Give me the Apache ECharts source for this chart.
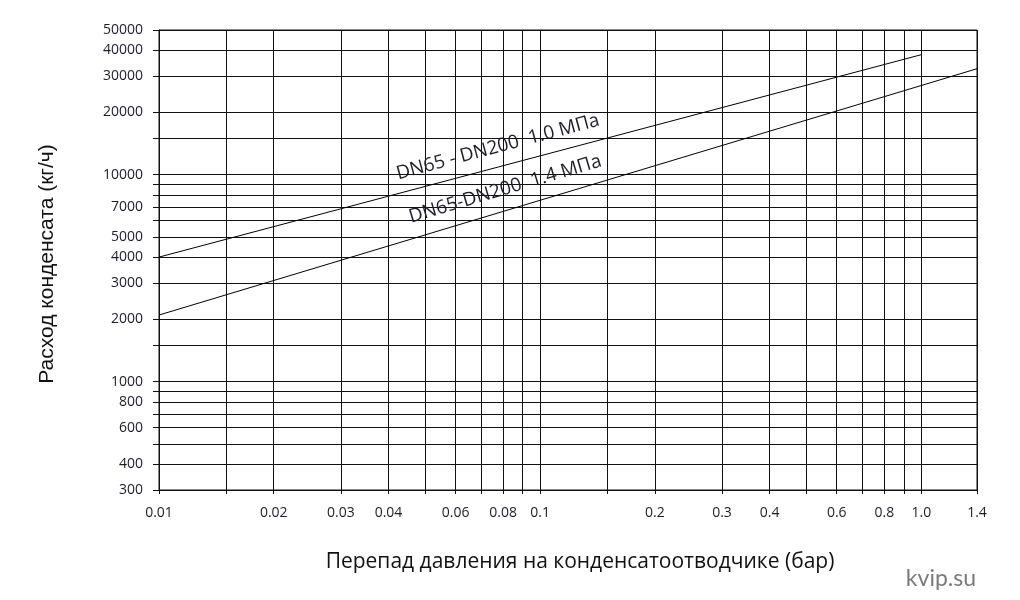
<!DOCTYPE html>
<html>
<head>
<meta charset="utf-8">
<script src="https://cdn.jsdelivr.net/npm/echarts@6/dist/echarts.min.js"></script>
<style>
html,body{margin:0;padding:0;background:#fff;}
#chart{width:1020px;height:600px;}
</style>
</head>
<body>
<div id="chart"></div>
<script>
// X axis (pressure drop, bar): grid lines and labelled ticks
var xGridValues = [0.01, 0.015, 0.02, 0.03, 0.04, 0.05, 0.06, 0.07, 0.08, 0.09, 0.1, 0.15, 0.2, 0.3, 0.4, 0.5, 0.6, 0.7, 0.8, 0.9, 1.0, 1.4];
var xLabelValues = [0.01, 0.02, 0.03, 0.04, 0.06, 0.08, 0.1, 0.2, 0.3, 0.4, 0.6, 0.8, 1.0, 1.4];
var xLabelTexts = ['0.01', '0.02', '0.03', '0.04', '0.06', '0.08', '0.1', '0.2', '0.3', '0.4', '0.6', '0.8', '1.0', '1.4'];

// Y axis (condensate flow, kg/h): grid lines and labelled ticks
var yGridValues = [300, 400, 500, 600, 700, 800, 900, 1000, 1500, 2000, 3000, 4000, 5000, 6000, 7000, 8000, 9000, 10000, 15000, 20000, 30000, 40000, 50000];
var yLabelValues = [300, 400, 600, 800, 1000, 2000, 3000, 4000, 5000, 7000, 10000, 20000, 30000, 40000, 50000];

// Series
var seriesNames = ['DN65 - DN200  1.0 МПа', 'DN65-DN200  1.4 МПа'];
var s1x = [0.01, 1.0];
var s1y = [4000, 38000];
var s2x = [0.01, 1.4];
var s2y = [2100, 32500];

function pairs(xs, ys) {
  var out = [];
  for (var i = 0; i < xs.length; i++) out.push([xs[i], ys[i]]);
  return out;
}
function nearestText(v, vals, texts) {
  var best = 0, bd = Infinity;
  for (var i = 0; i < vals.length; i++) {
    var d = Math.abs(Math.log(v) - Math.log(vals[i]));
    if (d < bd) { bd = d; best = i; }
  }
  return texts[best];
}
var yLabelTexts = yLabelValues.map(function (v) { return String(v); });

var lineCol = '#111';
var labelFont = { fontFamily: 'Open Sans', fontSize: 14, color: '#1c1c28' };

var chart = echarts.init(document.getElementById('chart'), null, { renderer: 'canvas' });
chart.setOption({
  backgroundColor: '#ffffff',
  animation: false,
  grid: { left: 159, right: 43, top: 30, bottom: 110, containLabel: false, show: true, borderColor: lineCol, borderWidth: 1 },
  xAxis: {
    type: 'log', logBase: 10, min: 0.01, max: 1.4,
    name: 'Перепад давления на конденсатоотводчике (бар)',
    nameLocation: 'middle', nameGap: 62,
    nameTextStyle: { fontFamily: 'Open Sans', fontSize: 21, color: '#111', padding: [0, 0, 0, 24] },
    axisLine: { show: true, lineStyle: { color: lineCol, width: 1 } },
    axisTick: { show: true, length: 4, inside: false, customValues: xGridValues, lineStyle: { color: lineCol } },
    axisLabel: Object.assign({ show: true, margin: 16, customValues: xLabelValues, hideOverlap: false,
      formatter: function (v) { return nearestText(v, xLabelValues, xLabelTexts); } }, labelFont),
    splitLine: { show: true, lineStyle: { color: lineCol, width: 1 } },
    minorTick: { show: false }, minorSplitLine: { show: false }
  },
  yAxis: {
    type: 'log', logBase: 10, min: 300, max: 50000,
    name: 'Расход конденсата (кг/ч)',
    nameLocation: 'middle', nameGap: 101, nameRotate: 90,
    nameTextStyle: { fontFamily: 'Liberation Sans', fontSize: 21, color: '#111', padding: [0, 8, 0, 0] },
    axisLine: { show: true, lineStyle: { color: lineCol, width: 1 } },
    axisTick: { show: true, length: 6, inside: false, customValues: yGridValues, lineStyle: { color: lineCol } },
    axisLabel: Object.assign({ show: true, margin: 16, customValues: yLabelValues, hideOverlap: false,
      formatter: function (v) { return nearestText(v, yLabelValues, yLabelTexts); } }, labelFont),
    splitLine: { show: true, lineStyle: { color: lineCol, width: 1 } },
    minorTick: { show: false }, minorSplitLine: { show: false }
  },
  series: [
    {
      name: seriesNames[0], type: 'line', data: pairs(s1x, s1y), showSymbol: false, symbol: 'none',
      lineStyle: { color: '#000', width: 1 }, silent: true,
      markPoint: {
        symbol: 'circle', symbolSize: 0, silent: true,
        label: { show: true, position: 'inside', rotate: 15, formatter: seriesNames[0],
          fontFamily: 'Open Sans', fontSize: 19, color: '#1e1e28' },
        data: [{ coord: [0.0775, 13600] }]
      }
    },
    {
      name: seriesNames[1], type: 'line', data: pairs(s2x, s2y), showSymbol: false, symbol: 'none',
      lineStyle: { color: '#000', width: 1 }, silent: true,
      markPoint: {
        symbol: 'circle', symbolSize: 0, silent: true,
        label: { show: true, position: 'inside', rotate: 16.5, formatter: seriesNames[1],
          fontFamily: 'Open Sans', fontSize: 19, color: '#1e1e28' },
        data: [{ coord: [0.081, 8520] }]
      }
    }
  ],
  graphic: [
    { type: 'text', right: 44, bottom: 10,
      style: { text: 'kvip.su', fontFamily: 'Lato', fontSize: 23, fill: '#7a7a7a' } }
  ]
});
</script>
</body>
</html>
